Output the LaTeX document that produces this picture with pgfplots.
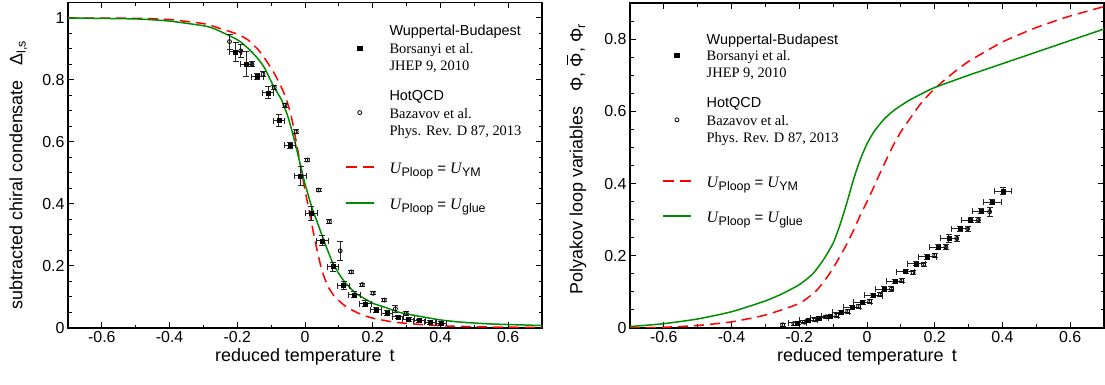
\documentclass[border=0pt]{standalone}
\usepackage{pgfplots}
\usepackage{pgfplotstable}
\pgfplotsset{compat=1.18}
\usepackage{fontspec}
\setmainfont{Liberation Sans}
\newfontfamily\serif{Liberation Serif}
\definecolor{myred}{RGB}{255,0,0}
\definecolor{mygreen}{RGB}{0,140,0}
\newcommand\st[1]{\rule[-#1bp]{0pt}{\dimexpr#1bp+12bp\relax}}
\newcommand\Uent[1]{{\serif\itshape\fontsize{16}{17}\selectfont U}\kern0.5bp\raisebox{-3bp}{\fontsize{12.5}{13}\selectfont #1}}
\newcommand\barPhi{\leavevmode\hbox{\ooalign{Φ\cr\hidewidth\raisebox{0.80em}{\rule{0.55em}{0.06em}}\hidewidth\cr}}}

% ---------- left panel data ----------
\pgfplotstableread{
t v ex ey
-0.205 0.891 0.017 0.030
-0.173 0.851 0.017 0.040
-0.141 0.811 0.017 0.010
-0.109 0.759 0.017 0.019
-0.077 0.669 0.017 0.020
-0.045 0.590 0.017 0.010
-0.013 0.491 0.017 0.030
0.019 0.370 0.017 0.022
0.051 0.281 0.017 0.016
0.082 0.198 0.017 0.015
0.114 0.137 0.017 0.012
0.146 0.107 0.017 0.010
0.178 0.078 0.017 0.010
0.210 0.059 0.017 0.008
0.242 0.048 0.017 0.008
0.274 0.036 0.017 0.006
0.306 0.028 0.017 0.006
0.338 0.024 0.017 0.005
0.370 0.018 0.017 0.005
0.402 0.015 0.017 0.005
}\wbL
\pgfplotstableread{
t v ey
-0.223 0.924 0.024
-0.190 0.894 0.021
-0.157 0.851 0.008
-0.124 0.819 0.008
-0.091 0.776 0.006
-0.059 0.719 0.006
-0.026 0.633 0.006
0.007 0.542 0.006
0.040 0.445 0.006
0.072 0.343 0.006
0.104 0.249 0.030
0.137 0.181 0.005
0.169 0.140 0.005
0.201 0.112 0.005
0.234 0.090 0.005
0.267 0.062 0.012
0.299 0.047 0.005
}\hqL
\pgfplotstableread{
t v
-0.7 1.0
-0.5 0.999
-0.4 0.995
-0.3 0.982
-0.267 0.972
-0.2 0.948
-0.168 0.929
-0.14 0.9
-0.119 0.87
-0.09 0.82
-0.064 0.763
-0.05 0.72
-0.04 0.68
-0.03 0.625
-0.02 0.565
-0.01 0.505
0.0 0.445
0.01 0.39
0.02 0.335
0.03 0.28
0.04 0.23
0.05 0.185
0.06 0.155
0.07 0.13
0.085 0.105
0.1 0.088
0.12 0.07
0.144 0.055
0.17 0.042
0.203 0.031
0.262 0.019
0.3 0.015
0.36 0.01
0.43 0.006
0.55 0.003
0.7 0.002
}\ymL
\pgfplotstableread{
t v
-0.7 1.0
-0.5 0.997
-0.4 0.99
-0.3 0.975
-0.267 0.965
-0.2 0.93
-0.168 0.902
-0.14 0.87
-0.119 0.838
-0.093 0.78
-0.069 0.735
-0.05 0.68
-0.03 0.601
-0.02 0.555
-0.01 0.51
0.0 0.465
0.02 0.39
0.04 0.33
0.06 0.27
0.08 0.215
0.1 0.175
0.12 0.145
0.15 0.112
0.2 0.08
0.233 0.068
0.28 0.05
0.332 0.039
0.4 0.026
0.46 0.019
0.55 0.013
0.7 0.008
}\glL

% ---------- right panel data ----------
\pgfplotstableread{
t v ex ey
-0.205 0.014 0.026 0.004
-0.173 0.021 0.026 0.004
-0.141 0.028 0.026 0.004
-0.109 0.032 0.026 0.004
-0.077 0.043 0.026 0.005
-0.045 0.057 0.026 0.005
-0.013 0.071 0.026 0.005
0.019 0.090 0.026 0.006
0.051 0.108 0.026 0.006
0.082 0.129 0.026 0.006
0.114 0.156 0.026 0.006
0.146 0.178 0.026 0.006
0.178 0.197 0.026 0.006
0.210 0.224 0.026 0.006
0.242 0.248 0.026 0.010
0.274 0.275 0.026 0.007
0.306 0.299 0.026 0.007
0.338 0.324 0.026 0.007
0.370 0.349 0.026 0.008
0.402 0.379 0.026 0.010
}\wbR
\pgfplotstableread{
t v ey
-0.249 0.009 0.004
-0.216 0.012 0.004
-0.185 0.016 0.004
-0.153 0.023 0.004
-0.120 0.031 0.005
-0.089 0.035 0.005
-0.057 0.046 0.005
-0.025 0.060 0.005
0.008 0.074 0.006
0.039 0.092 0.006
0.072 0.108 0.006
0.103 0.131 0.006
0.136 0.154 0.006
0.167 0.176 0.006
0.200 0.201 0.006
0.233 0.224 0.006
0.265 0.248 0.007
0.297 0.275 0.007
0.329 0.299 0.007
0.362 0.322 0.012
}\hqR
\pgfplotstableread{
t v
-0.7 0.0
-0.6 0.002
-0.5 0.007
-0.4 0.017
-0.3 0.036
-0.2 0.068
-0.15 0.103
-0.12 0.138
-0.1 0.166
-0.08 0.198
-0.06 0.232
-0.04 0.27
-0.02 0.312
0.0 0.35
0.02 0.39
0.04 0.432
0.06 0.472
0.08 0.51
0.1 0.543
0.13 0.584
0.16 0.623
0.2 0.663
0.25 0.703
0.3 0.738
0.4 0.792
0.5 0.832
0.6 0.864
0.7 0.89
}\ymR
\pgfplotstableread{
t v
-0.7 0.004
-0.6 0.012
-0.5 0.025
-0.4 0.045
-0.3 0.075
-0.25 0.095
-0.2 0.12
-0.16 0.15
-0.128 0.19
-0.1 0.235
-0.08 0.285
-0.06 0.345
-0.045 0.395
-0.03 0.44
-0.015 0.478
0.0 0.51
0.02 0.543
0.05 0.578
0.08 0.603
0.12 0.628
0.16 0.648
0.2 0.666
0.3 0.70
0.4 0.732
0.5 0.764
0.6 0.796
0.7 0.828
}\glR

\pgfplotsset{
  redleg/.style={legend image code/.code={\path[draw=none,fill=none] (0bp,0bp) -- (28bp,0bp);
     \draw[myred, line width=1.5bp, dash pattern=on 11bp off 6bp] (0bp,6bp) -- (28bp,6bp);}},
  greenleg/.style={legend image code/.code={\path[draw=none,fill=none] (0bp,0bp) -- (28bp,0bp);
     \draw[mygreen, line width=1.5bp] (0bp,6bp) -- (28bp,6bp);}},
  sqleg/.style={legend image code/.code={\path[draw=none,fill=none] (0bp,0bp) -- (28bp,0bp);
     \fill[black] (11.7bp,2.7bp) rectangle (16.3bp,7.3bp);}},
  cileg/.style={legend image code/.code={\path[draw=none,fill=none] (0bp,0bp) -- (28bp,0bp);
     \draw[black, line width=0.8bp] (14bp,5.7bp) circle[radius=2bp];}},
  common/.style={
    scale only axis, width=474bp,
    anchor=south west,
    xmin=-0.7, xmax=0.7,
    xtick={-0.6,-0.4,-0.2,0,0.2,0.4,0.6},
    minor xtick={-0.7,-0.5,-0.3,-0.1,0.1,0.3,0.5,0.7},
    tick align=inside,
    major tick length=6bp, minor tick length=3.5bp,
    axis line style={line width=1.3bp, black},
    every tick/.style={black, line width=1bp},
    tick label style={font=\fontsize{16}{18}\selectfont},
    /pgf/number format/fixed, /pgf/number format/precision=1,
    /pgf/number format/assume math mode=true,
    label style={font=\fontsize{18}{20}\selectfont},
    xlabel={reduced temperature\hspace{0.45em}t},
    xlabel style={at={(axis description cs:0.5,-0.09)}, anchor=center},
    legend style={draw=none, fill=none, inner sep=0pt, row sep=0pt, column sep=15bp,
      font=\fontsize{14.5}{17.5}\selectfont, cells={anchor=base west},
      nodes={inner sep=0pt, text depth=}},
  },
  curve/.style={line width=1.5bp, smooth, tension=0.35},
  ebars/.style={error bars/.cd, y dir=both, y explicit,
      error bar style={line width=0.9bp, black!85},
      error mark options={line width=0.9bp, mark size=3bp, black!85, rotate=90}},
  xebars/.style={error bars/.cd, x dir=both, x explicit, y dir=both, y explicit,
      error bar style={line width=0.9bp, black!85},
      error mark options={line width=0.9bp, mark size=3bp, black!85, rotate=90}},
}

\begin{document}
\begin{tikzpicture}
\begin{axis}[common,
  at={(68bp,57bp)}, height=325.5bp,
  ymin=0, ymax=1.05,
  ytick={0,0.2,0.4,0.6,0.8,1},
  minor ytick={0.05,0.1,0.15,0.25,0.3,0.35,0.45,0.5,0.55,0.65,0.7,0.75,0.85,0.9,0.95,1.05},
  ylabel={subtracted chiral condensate\hspace{0.8em}Δ\textsubscript{l,s}},
  ylabel style={at={(axis description cs:-0.105,0.47)}, anchor=center},
  legend style={at={(axis description cs:0.584,0.937)}, anchor=north west},
]
\addplot[curve, myred, dash pattern=on 10bp off 6bp, forget plot] table[x=t,y=v]{\ymL};
\addplot[curve, mygreen, forget plot] table[x=t,y=v]{\glL};
\addplot[only marks, mark=o, mark size=2bp, black, mark options={line width=0.8bp}, forget plot, ebars]
  table[x=t,y=v,y error=ey]{\hqL};
\addplot[only marks, mark=square*, mark size=2bp, black, forget plot, xebars]
  table[x=t,y=v,x error=ex,y error=ey]{\wbL};

\addlegendimage{empty legend}
\addlegendentry{\st{5.7}Wuppertal-Budapest}
\addlegendimage{sqleg}
\addlegendentry{\st{35.3}\serif\begin{tabular}[t]{@{}l@{}}Borsanyi et al.\\JHEP 9, 2010\end{tabular}}
\addlegendimage{empty legend}
\addlegendentry{\st{5.7}HotQCD}
\addlegendimage{cileg}
\addlegendentry{\st{42.7}\serif\begin{tabular}[t]{@{}l@{}}Bazavov et al.\\Phys. Rev. D 87, 2013\end{tabular}}
\addlegendimage{redleg}
\addlegendentry{\st{24}\Uent{Ploop}\hspace{4bp}{\fontsize{15}{17}\selectfont =}\hspace{4bp}\Uent{YM}}
\addlegendimage{greenleg}
\addlegendentry{\st{5}\Uent{Ploop}\hspace{4bp}{\fontsize{15}{17}\selectfont =}\hspace{4bp}\Uent{glue}}
\end{axis}

\begin{axis}[common,
  at={(630bp,57bp)}, height=325bp,
  ymin=0, ymax=0.9,
  ytick={0,0.2,0.4,0.6,0.8},
  minor ytick={0.05,0.1,0.15,0.25,0.3,0.35,0.45,0.5,0.55,0.65,0.7,0.75,0.85,0.9},
  ylabel={Polyakov loop variables\hspace{0.8em}Φ,\hspace{0.3em}\barPhi,\hspace{0.3em}Φ\textsubscript{r}},
  ylabel style={at={(axis description cs:-0.11,0.52)}, anchor=center},
  legend style={at={(axis description cs:0.0675,0.911)}, anchor=north west},
]
\addplot[curve, myred, dash pattern=on 10bp off 6bp, forget plot] table[x=t,y=v]{\ymR};
\addplot[curve, mygreen, forget plot] table[x=t,y=v]{\glR};
\addplot[only marks, mark=o, mark size=2bp, black, mark options={line width=0.8bp}, forget plot, ebars]
  table[x=t,y=v,y error=ey]{\hqR};
\addplot[only marks, mark=square*, mark size=2bp, black, forget plot, xebars]
  table[x=t,y=v,x error=ex,y error=ey]{\wbR};

\addlegendimage{empty legend}
\addlegendentry{\st{4}Wuppertal-Budapest}
\addlegendimage{sqleg}
\addlegendentry{\st{35.3}\serif\begin{tabular}[t]{@{}l@{}}Borsanyi et al.\\JHEP 9, 2010\end{tabular}}
\addlegendimage{empty legend}
\addlegendentry{\st{5.7}HotQCD}
\addlegendimage{cileg}
\addlegendentry{\st{49.7}\serif\begin{tabular}[t]{@{}l@{}}Bazavov et al.\\Phys. Rev. D 87, 2013\end{tabular}}
\addlegendimage{redleg}
\addlegendentry{\st{23}\Uent{Ploop}\hspace{4bp}{\fontsize{15}{17}\selectfont =}\hspace{4bp}\Uent{YM}}
\addlegendimage{greenleg}
\addlegendentry{\st{5}\Uent{Ploop}\hspace{4bp}{\fontsize{15}{17}\selectfont =}\hspace{4bp}\Uent{glue}}
\end{axis}
\pgfresetboundingbox
\path[use as bounding box] (0bp,0bp) rectangle (1105bp,385bp);
\end{tikzpicture}
\end{document}
